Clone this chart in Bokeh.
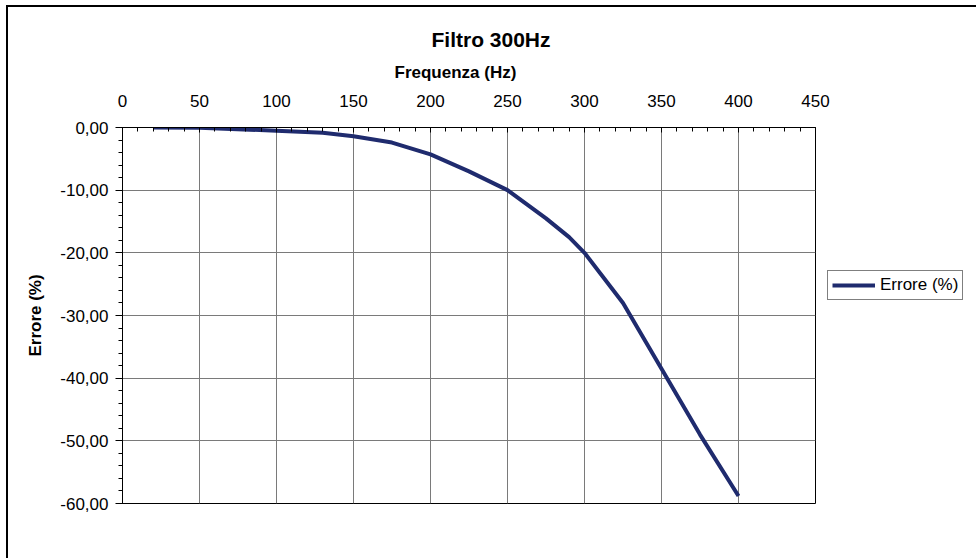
from bokeh.plotting import figure
from bokeh.models import (ColumnDataSource, Range1d, FixedTicker, Legend,
                          LegendItem, Title)
from bokeh.embed import file_html
from bokeh.resources import INLINE

# ---- data -------------------------------------------------------------
title_text = "Filtro 300Hz"
x_label = "Frequenza (Hz)"
y_label = "Errore (%)"
series_name = "Errore (%)"

freq = [20, 50, 100, 130, 150, 175, 200, 225, 250, 275, 290, 300, 325, 350, 375, 400]
err = [0.0, -0.05, -0.5, -0.85, -1.4, -2.4, -4.3, -7.0, -10.0, -14.5, -17.5,
       -20.0, -28.0, -38.5, -49.0, -58.8]

x_ticks = [0, 50, 100, 150, 200, 250, 300, 350, 400, 450]
x_minor = [v for v in range(0, 451, 10)]
y_ticks = [0, -10, -20, -30, -40, -50, -60]
y_minor = [v for v in range(-60, 1, 2)]
y_tick_labels = ["0,00", "-10,00", "-20,00", "-30,00", "-40,00", "-50,00", "-60,00"]

FONT = "Liberation Sans"
LINE_COLOR = "#1f2b6e"
GRID_COLOR = "#7a7a7a"

src = ColumnDataSource(dict(freq=freq, err=err))

p = figure(frame_width=693, frame_height=376,
           x_range=Range1d(0, 450), y_range=Range1d(-60, 0),
           x_axis_location="above", y_axis_location="left",
           output_backend="svg", toolbar_location=None, title=None,
           min_border_left=114, min_border_top=120,
           min_border_right=158, min_border_bottom=55)

p.background_fill_color = "white"
p.border_fill_color = "white"
p.outline_line_color = "black"
p.outline_line_width = 1

# x axis (top)
xa = p.xaxis[0]
xa.ticker = FixedTicker(ticks=x_ticks, minor_ticks=x_minor)
xa.major_tick_in = 5
xa.major_tick_out = 0
xa.minor_tick_in = 4
xa.minor_tick_out = 0
xa.major_label_standoff = 21
xa.major_label_text_font = FONT
xa.major_label_text_font_size = "17px"
xa.major_label_text_color = "black"
xa.axis_line_color = "black"
xa.major_tick_line_color = "black"
xa.minor_tick_line_color = "black"

# y axis (left)
ya = p.yaxis[0]
ya.ticker = FixedTicker(ticks=y_ticks, minor_ticks=y_minor)
ya.major_label_overrides = {t: lab for t, lab in zip(y_ticks, y_tick_labels)}
ya.major_tick_in = 0
ya.major_tick_out = 7
ya.minor_tick_in = 0
ya.minor_tick_out = 4
ya.major_label_standoff = 7
ya.major_label_text_font = FONT
ya.major_label_text_font_size = "17px"
ya.major_label_text_color = "black"
ya.axis_label = y_label
ya.axis_label_text_font = FONT
ya.axis_label_text_font_size = "17px"
ya.axis_label_text_font_style = "bold"
ya.axis_label_text_color = "black"
ya.axis_label_standoff = 12
ya.axis_line_color = "black"
ya.major_tick_line_color = "black"
ya.minor_tick_line_color = "black"

# grid
p.xgrid.ticker = FixedTicker(ticks=x_ticks)
p.ygrid.ticker = FixedTicker(ticks=y_ticks)
p.xgrid.grid_line_color = GRID_COLOR
p.ygrid.grid_line_color = GRID_COLOR
p.xgrid.grid_line_width = 1
p.ygrid.grid_line_width = 1

# titles stacked above the top axis
has_standoff = "standoff" in Title.properties()
kw1 = dict(text=x_label, align="left", offset=272, text_font=FONT,
           text_font_size="17px", text_font_style="bold", text_color="black")
kw2 = dict(text=title_text, align="left", offset=309, text_font=FONT,
           text_font_size="21px", text_font_style="bold", text_color="black")
if has_standoff:
    kw1["standoff"] = 19
    kw2["standoff"] = 1
p.add_layout(Title(**kw1), "above")
p.add_layout(Title(**kw2), "above")

r = p.line("freq", "err", source=src, line_color=LINE_COLOR, line_width=4)

legend = Legend(items=[LegendItem(label=series_name, renderers=[r])],
                location=(12, 203), orientation="vertical",
                border_line_color="black", border_line_width=1,
                background_fill_color="white", background_fill_alpha=1.0,
                glyph_width=43, glyph_height=18, label_standoff=5,
                padding=4, spacing=0, margin=0,
                label_text_font=FONT, label_text_font_size="17px",
                label_text_color="black")
p.add_layout(legend, "right")

p.styles = {"margin-left": "6px", "margin-top": "5px",
            "border-left": "2px solid black", "border-top": "2px solid black"}

open("out.html", "w").write(file_html(p, INLINE))
